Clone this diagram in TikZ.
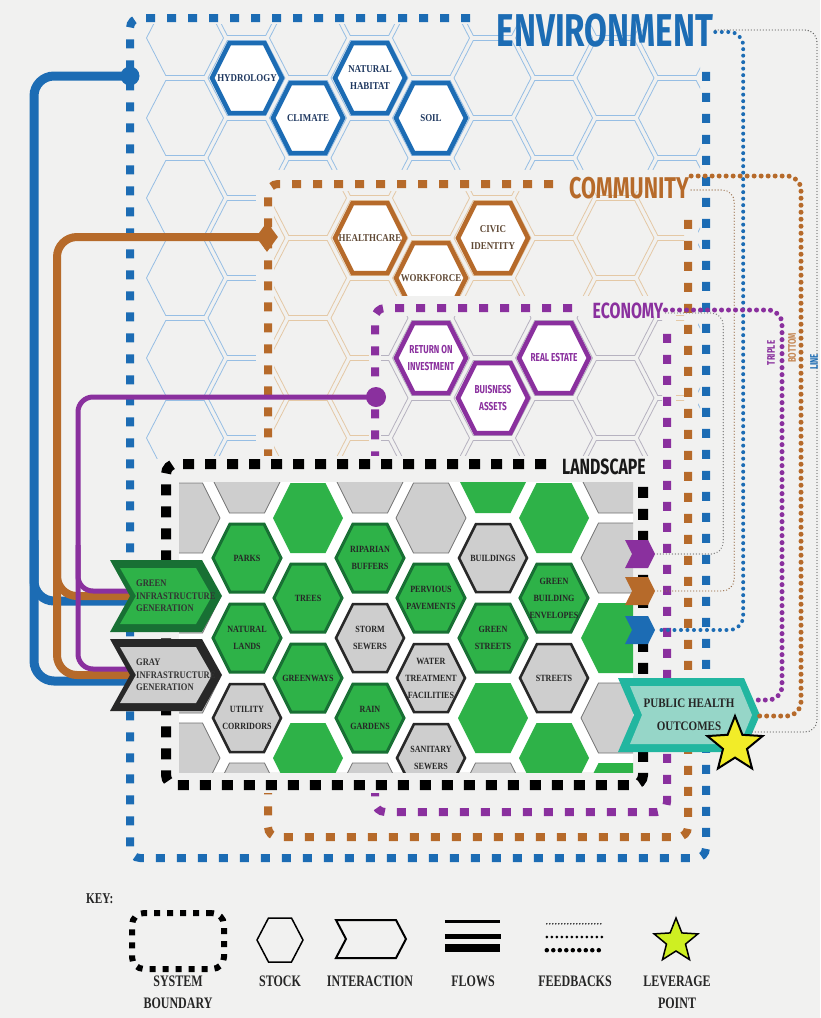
\documentclass[tikz,border=0pt]{standalone}
\usepackage{fontspec}
\usetikzlibrary{calc,shapes.geometric}

\newfontfamily\serifc[FakeStretch=0.85]{Liberation Serif}
\newfontfamily\serifk[FakeStretch=0.75]{Liberation Serif}
\newfontfamily\sansc[FakeStretch=0.72]{Fira Sans}

\definecolor{sfondo}{RGB}{241,241,240}
\definecolor{blu}{RGB}{28,108,180}
\definecolor{marrone}{RGB}{182,106,42}
\definecolor{viola}{RGB}{138,48,158}
\definecolor{verde}{RGB}{46,178,72}
\definecolor{verdescuro}{RGB}{24,112,52}
\definecolor{grigio}{RGB}{206,206,206}
\definecolor{grigioscuro}{RGB}{40,40,40}
\definecolor{acqua}{RGB}{34,182,160}
\definecolor{acquachiaro}{RGB}{150,214,200}
\definecolor{giallo}{RGB}{242,236,40}
\definecolor{lineablu}{RGB}{150,190,228}
\definecolor{lineamarr}{RGB}{228,200,165}
\definecolor{lineaviola}{RGB}{182,178,192}
\definecolor{testoblu}{RGB}{30,55,95}
\definecolor{testomarr}{RGB}{95,72,52}

\tikzset{
  pics/esa/.style 2 args={code={%
    \path[pic actions] (-#1,0) -- ({-#1/2},-#2) -- ({#1/2},-#2) -- (#1,0) -- ({#1/2},#2) -- ({-#1/2},#2) -- cycle;}},
  pics/freccia/.style n args={3}{code={%
    \path[pic actions] (-#1,-#2) -- ({#1-#3},-#2) -- (#1,0) -- ({#1-#3},#2) -- (-#1,#2) -- ({-#1+#3},0) -- cycle;}}
}

\begin{document}
\begin{tikzpicture}[x=1pt, y=-1pt,
  confine/.style={line width=8pt, dash pattern=on 9pt off 12pt, rounded corners=10pt},
  confinepaes/.style={line width=10pt, dash pattern=on 11pt off 11pt, rounded corners=10pt, black},
  flusso/.style={rounded corners=20pt},
  fbspesso/.style={line width=5pt, dash pattern=on 0pt off 7pt, line cap=round, rounded corners=14pt},
  fbsottile/.style={line width=1.4pt, dash pattern=on 0pt off 3pt, line cap=round, rounded corners=12pt},
  stockamb/.style={draw=blu, line width=4.5pt, fill=white},
  stockcom/.style={draw=marrone, line width=4.5pt, fill=white},
  stockeco/.style={draw=viola, line width=4.5pt, fill=white},
  etamb/.style={font={\serifc\bfseries\fontsize{10.5}{17}\selectfont}, text=testoblu, align=center, inner sep=0pt},
  etcom/.style={font={\serifc\bfseries\fontsize{10.5}{17}\selectfont}, text=testomarr, align=center, inner sep=0pt},
  eteco/.style={font={\sansc\bfseries\fontsize{11.5}{17}\selectfont}, text=viola, align=center, inner sep=0pt},
  etpaes/.style={font={\serifc\bfseries\fontsize{9.5}{17}\selectfont}, text=black!85, align=center, inner sep=0pt},
  etchev/.style={font={\serifc\bfseries\fontsize{10}{12.5}\selectfont}, align=left, inner sep=0pt, anchor=west},
  titolo/.style={font={\sansc\bfseries\fontsize{#1}{#1}\selectfont}, inner sep=2pt},
  verticale/.style={font={\sansc\bfseries\fontsize{11}{11}\selectfont}, rotate=90, inner sep=0pt},
  etchiave/.style={font={\serifk\bfseries\fontsize{16}{22}\selectfont}, text=black!85, align=center, anchor=north, inner sep=0pt}
]

\fill[sfondo] (0,0) rectangle (820,1018);
\useasboundingbox (0,0) rectangle (820,1018);

% Ambiente
\begin{scope}
  \clip (138,24) rectangle (700,458);
  \foreach \j in {0,...,8}{
    \pgfmathsetmacro{\cx}{185+61.5*\j}
    \pgfmathsetmacro{\cy}{isodd(\j) ? 78 : 118}
    \foreach \m in {-1,...,5}
      \pic[draw=lineablu, line width=0.8pt] at (\cx,{\cy+80*\m}) {esa={38.5}{37.5}};
  }
\end{scope}
\foreach \x/\y/\n/\t in {247/78/idrologia/HYDROLOGY, 308/118/clima/CLIMATE, 370/78/habitat/{NATURAL\\HABITAT}, 431/118/suolo/SOIL}{
  \pic[stockamb] at (\x,\y) {esa={35}{35}};
  \node[etamb] (\n) at (\x,\y) {\t};
}

% Comunita
\fill[sfondo] (256,170) rectangle (698,462);
\begin{scope}
  \clip (274,191) rectangle (684,458);
  \foreach \j in {0,...,8}{
    \pgfmathsetmacro{\cx}{185+61.5*\j}
    \pgfmathsetmacro{\cy}{isodd(\j) ? 78 : 118}
    \foreach \m in {1,...,5}
      \pic[draw=lineamarr, line width=0.8pt] at (\cx,{\cy+80*\m}) {esa={38.5}{37.5}};
  }
\end{scope}
\foreach \x/\y/\n/\t in {370/238/sanita/HEALTHCARE, 493/238/civica/{CIVIC\\IDENTITY}, 431/278/lavoro/WORKFORCE}{
  \pic[stockcom] at (\x,\y) {esa={35}{35}};
  \node[etcom] (\n) at (\x,\y) {\t};
}

% Economia
\fill[sfondo] (369,296) rectangle (676,462);
\begin{scope}
  \clip (381,316) rectangle (662,458);
  \foreach \j in {2,...,8}{
    \pgfmathsetmacro{\cx}{185+61.5*\j}
    \pgfmathsetmacro{\cy}{isodd(\j) ? 78 : 118}
    \foreach \m in {2,...,5}
      \pic[draw=lineaviola, line width=0.8pt] at (\cx,{\cy+80*\m}) {esa={38.5}{37.5}};
  }
\end{scope}
\foreach \x/\y/\n/\t in {431/358/rendimento/{RETURN ON\\INVESTMENT}, 493/398/beni/{BUISNESS\\ASSETS}, 554/358/immobili/{REAL ESTATE}}{
  \pic[stockeco] at (\x,\y) {esa={35}{35}};
  \node[eteco] (\n) at (\x,\y) {\t};
}

% Confini
\draw[confine, blu] (470,18) -- (130,18) -- (130,858) -- (706,858) -- (706,62);
\draw[confine, marrone] (553,184) -- (268,184) -- (268,837) -- (688,837) -- (688,214);
\draw[confine, viola] (572,308) -- (375,308) -- (375,812) -- (667,812) -- (667,328);

% Paesaggio
\fill[sfondo] (158,456) rectangle (651,793);
\fill[white] (179,482) rectangle (633,772);
\begin{scope}
  \clip (179,482) rectangle (633,772);
  \foreach \x/\y in {308/518, 493/478, 554/518, 493/718, 554/758, 616/638, 616/798, 308/758}
    \pic[fill=verde] at (\x,\y) {esa={35}{35}};
  \foreach \x/\y in {185/518, 185/598, 185/678, 185/758, 247/478, 247/798, 370/478, 370/798, 431/518, 493/798, 616/478, 616/558, 616/718}
    \pic[fill=grigio, draw=black!55, line width=0.8pt] at (\x,\y) {esa={35}{35}};
  \foreach \x/\y/\n/\t in {247/558/parchi/PARKS, 247/638/terre/{NATURAL\\LANDS}, 308/598/alberi/TREES, 308/678/viali/GREENWAYS, 370/558/ripariali/{RIPARIAN\\BUFFERS}, 370/718/giardini/{RAIN\\GARDENS}, 431/598/pavimenti/{PERVIOUS\\PAVEMENTS}, 493/638/strade/{GREEN\\STREETS}, 554/598/involucri/{GREEN\\BUILDING\\ENVELOPES}}{
    \pic[fill=verde, draw=verdescuro, line width=3pt] at (\x,\y) {esa={34}{34}};
    \node[etpaes] (\n) at (\x,\y) {\t};
  }
  \foreach \x/\y/\n/\t in {247/718/corridoi/{UTILITY\\CORRIDORS}, 370/638/fogne/{STORM\\SEWERS}, 431/678/depuratori/{WATER\\TREATMENT\\FACILITIES}, 431/758/sanitarie/{SANITARY\\SEWERS}, 493/558/edifici/BUILDINGS, 554/678/vie/STREETS}{
    \pic[fill=grigio, draw=grigioscuro, line width=2.5pt] at (\x,\y) {esa={34}{34}};
    \node[etpaes] (\n) at (\x,\y) {\t};
  }
\end{scope}
\draw[confinepaes] (546,464) -- (166,464) -- (166,785) -- (643,785) -- (643,486);

% Titoli
\node[titolo=46, text=blu] (tamb) at (605,31) {ENVIRONMENT};
\node[titolo=30, text=marrone] (tcom) at (629,188) {COMMUNITY};
\node[titolo=22, text=viola] (teco) at (628,311) {ECONOMY};
\node[titolo=22, text=black!90] (tpaes) at (604,467) {LANDSCAPE};

% Flussi
\coordinate (cverde) at (166,596);
\coordinate (cgrigio) at (166,675);
\coordinate (diramB) at (34,540);
\coordinate (diramM) at (57,540);
\coordinate (diramV) at (78,545);
\node[circle, fill=blu, minimum size=19pt, inner sep=0pt] (puntoamb) at (130,76) {};
\node[diamond, fill=marrone, minimum width=22pt, minimum height=30pt, inner sep=0pt] (puntocom) at (267,237) {};
\node[circle, fill=viola, minimum size=20pt, inner sep=0pt] (puntoeco) at (376,397) {};
\draw[flusso, blu, line width=9pt] (puntoamb.center) -- (34,76) |- ($(cgrigio)+(-28,6)$);
\draw[flusso, blu, line width=9pt] (diramB) |- ($(cverde)+(-28,5)$);
\draw[flusso, marrone, line width=8pt] (puntocom.center) -- (57,237) |- ($(cgrigio)+(-28,0)$);
\draw[flusso, marrone, line width=8pt] (diramM) |- ($(cverde)+(-28,0)$);
\draw[flusso, viola, line width=5pt, rounded corners=15pt] (puntoeco.center) -- (78,397) |- ($(cgrigio)+(-28,-6)$);
\draw[flusso, viola, line width=5pt, rounded corners=15pt] (diramV) |- ($(cverde)+(-28,-5)$);

% Generazione
\pic[fill=verdescuro] at (cverde) {freccia={56}{36}{20}};
\pic[fill=verde] at (cverde) {freccia={46}{28}{16}};
\node[etchev, text=black!80] (verdegen) at ($(cverde)+(-30,0)$) {GREEN\\INFRASTRUCTURE\\GENERATION};
\pic[fill=grigioscuro] at (cgrigio) {freccia={56}{36}{20}};
\pic[fill=grigio] at (cgrigio) {freccia={46}{28}{16}};
\node[etchev, text=black!80] (grigiogen) at ($(cgrigio)+(-30,0)$) {GRAY\\INFRASTRUCTURE\\GENERATION};

% Uscite
\node[minimum width=30pt, minimum height=28pt, inner sep=0pt] (cviola) at (640,554) {};
\node[minimum width=30pt, minimum height=28pt, inner sep=0pt] (cmarr) at (640,591) {};
\node[minimum width=30pt, minimum height=28pt, inner sep=0pt] (cblu) at (640,630) {};
\pic[fill=viola] at (cviola) {freccia={15}{14}{7}};
\pic[fill=marrone] at (cmarr) {freccia={15}{14}{7}};
\pic[fill=blu] at (cblu) {freccia={15}{14}{7}};
\pic[fill=acqua] at (689,715) {freccia={71}{37}{16}};
\pic[fill=acquachiaro] at (691,715) {freccia={61}{29}{12}};
\node[font={\serifc\bfseries\fontsize{13}{23}\selectfont}, align=center, inner sep=0pt, text=black!85] (salute) at (689,715) {PUBLIC HEALTH\\OUTCOMES};

% Retroazioni
\draw[fbspesso, blu, line width=4pt, dash pattern=on 0pt off 6.5pt] ($(tamb.east)+(0,1)$) -| ($(cblu.east)+(88,0)$) -- (cblu.east);
\draw[fbsottile, black!60] ($(tamb.east)+(0,-1)$) -| (817,732) -- ($(salute.center)+(63,17)$);
\draw[fbspesso, marrone] ($(tcom.east)+(0,-12)$) -| (801,716) -- ($(salute.center)+(68,1)$);
\draw[fbsottile, marrone!55!gray] ($(tcom.east)+(0,2)$) -| ($(cmarr.east)+(79,0)$) -- (cmarr.east);
\draw[fbspesso, viola] ($(teco.east)+(0,-1)$) -| (782,700) -- ($(salute.center)+(63,-15)$);
\draw[fbsottile, black!50] ($(teco.east)+(0,2)$) -| ($(cviola.east)+(68,0)$) -- (cviola.east);
\node[verticale, text=viola] (tripla) at (771,353) {TRIPLE};
\node[verticale, text=marrone!80] (fondo) at (792,348) {BOTTOM};
\node[verticale, text=blu] (linea) at (814,362) {LINE};

% Leva
\node[star, star points=5, star point ratio=2.3, fill=giallo, draw=black, line width=2pt, minimum size=58pt, inner sep=0pt] (leva) at (735,745) {};

% Legenda
\node[font={\serifk\bfseries\fontsize{15}{15}\selectfont}, anchor=west, inner sep=0pt, text=black!85] (chiave) at (86,899) {KEY:};
\node[draw=black, line width=6pt, dash pattern=on 6pt off 7pt, rounded corners=12pt, minimum width=92pt, minimum height=56pt] (kconf) at (178,941) {};
\node[minimum size=46pt, inner sep=0pt] (kstock) at (280,940) {};
\pic[draw=black, line width=1.5pt] at (kstock) {esa={23}{22}};
\node[minimum width=72pt, minimum height=38pt, inner sep=0pt] (kinter) at (371,939) {};
\pic[draw=black, line width=2pt] at (kinter) {freccia={35}{19}{10}};
\node[minimum width=56pt, minimum height=30pt, inner sep=0pt] (kflussi) at (473,936) {};
\draw[line width=3pt] (kflussi.north west) ++(0,1) -- ++(55,0);
\draw[line width=5pt] (kflussi.west) -- (kflussi.east);
\draw[line width=8pt] (kflussi.south west) ++(0,-3) -- ++(55,0);
\node[minimum width=56pt, minimum height=30pt, inner sep=0pt] (kretro) at (575,937) {};
\draw[line width=1.6pt, dash pattern=on 0pt off 3pt, line cap=round] (kretro.north west) ++(0,2) -- ++(56,0);
\draw[line width=3pt, dash pattern=on 0pt off 5pt, line cap=round] (kretro.west) -- (kretro.east);
\draw[line width=4.5pt, dash pattern=on 0pt off 6.5pt, line cap=round] (kretro.south west) ++(0,-2) -- ++(56,0);
\node[star, star points=5, star point ratio=2.3, fill=giallo!85!green, draw=black, line width=1.5pt, minimum size=46pt, inner sep=0pt] (kleva) at (676,941) {};

\node[etchiave] (lconf) at (178,976) {SYSTEM\\BOUNDARY};
\node[etchiave] (lstock) at (280,976) {STOCK};
\node[etchiave] (linter) at (370,976) {INTERACTION};
\node[etchiave] (lflussi) at (473,976) {FLOWS};
\node[etchiave] (lretro) at (575,976) {FEEDBACKS};
\node[etchiave] (lleva) at (677,976) {LEVERAGE\\POINT};

\end{tikzpicture}
\end{document}
